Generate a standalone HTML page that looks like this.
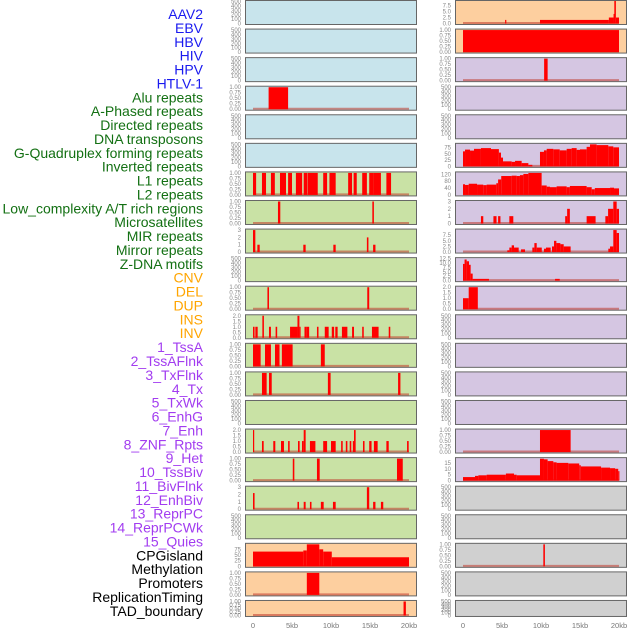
<!DOCTYPE html>
<html><head><meta charset="utf-8">
<style>
html,body{margin:0;padding:0;background:#fff;}
#wrap{position:relative;width:630px;height:630px;overflow:hidden;}
svg{position:absolute;left:0;top:0;}
</style></head>
<body>
<div id="wrap">
<svg id="chart" width="630" height="630" viewBox="0 0 630 630"></svg>
</div>
<script>
// ---- labels ----
const trackLabels = ["AAV2","EBV","HBV","HIV","HPV","HTLV-1","Alu repeats","A-Phased repeats","Directed repeats","DNA transposons","G-Quadruplex forming repeats","Inverted repeats","L1 repeats","L2 repeats","Low_complexity A/T rich regions","Microsatellites","MIR repeats","Mirror repeats","Z-DNA motifs","CNV","DEL","DUP","INS","INV","1_TssA","2_TssAFlnk","3_TxFlnk","4_Tx","5_TxWk","6_EnhG","7_Enh","8_ZNF_Rpts","9_Het","10_TssBiv","11_BivFlnk","12_EnhBiv","13_ReprPC","14_ReprPCWk","15_Quies","CPGisland","Methylation","Promoters","ReplicationTiming","TAD_boundary"];
const labelGroups = ["virus","virus","virus","virus","virus","virus","repeat","repeat","repeat","repeat","repeat","repeat","repeat","repeat","repeat","repeat","repeat","repeat","repeat","sv","sv","sv","sv","sv","chrom","chrom","chrom","chrom","chrom","chrom","chrom","chrom","chrom","chrom","chrom","chrom","chrom","chrom","chrom","other","other","other","other","other"];
const xTicks = [0,5,10,15,20];
const xTickLabels = ["0","5kb","10kb","15kb","20kb"];

// ---- tick sets ----
const ticksEmpty = ["0","100","200","300","400","500"];
const ticksUnit = ["0.00","0.25","0.50","0.75","1.00"];
const ticks3 = ["0","1","2","3"];
const ticks2h = ["0.0","0.5","1.0","1.5","2.0"];

// ---- left column data: [startKb, endKb, value] ----
const L_AAV2 = [], L_EBV = [], L_HBV = [];
const L_HIV = [[2.0,4.5,1]];
const L_HPV = [], L_HTLV = [];
const L_row7 = [[0,0.4,1],[1.15,1.67,1],[2.3,2.8,1],[3.46,4.23,1],[4.5,5.0,1],[5.5,6.3,1],[6.5,7.0,1],[7.05,8.3,1],[9.0,9.5,1],[9.8,10.6,1],[12.2,12.7,1],[12.9,13.3,1],[14.0,14.6,1],[14.9,15.4,1],[15.4,16.4,1],[17.1,17.7,1]];
const L_row8 = [[3.2,3.5,1],[15.3,15.5,1]];
const L_row9 = [[0,0.3,3],[0.56,0.86,1],[6.45,6.75,1],[10.3,10.6,1],[14.6,14.8,2],[15.4,15.7,1]];
const L_row10 = [];
const L_row11 = [[1.85,2.05,1],[14.65,14.9,1]];
const L_row12 = [[0,0.2,1],[0.3,0.6,1],[1.2,1.4,2],[2.05,2.3,1],[2.9,3.1,1],[4.75,5.0,1],[5.0,5.7,1],[5.7,5.95,2],[5.95,6.1,1],[6.6,6.9,1],[6.9,7.2,1],[8.2,8.4,1],[9.2,9.7,1],[10.1,10.4,1],[10.55,10.85,1],[11.4,12.1,1],[12.7,12.95,1],[14.0,14.2,1],[15.25,16.1,1],[17.4,17.6,1]];
const L_row13 = [[0,0.98,1],[1.54,2.3,1],[2.82,3.4,1],[3.7,5.08,1],[8.7,9.2,1]];
const L_row14 = [[1.15,1.75,1],[2.05,2.4,1],[9.6,9.95,1],[18.6,18.9,1]];
const L_row15 = [];
const L_row16 = [[0,0.09,2],[1.15,1.37,1],[2.6,2.86,1],[3.59,3.97,1],[4.5,4.7,1],[5.77,5.98,1],[6.28,6.5,1],[6.5,6.75,2],[7.3,8.0,1],[9.0,9.5,1],[10.0,10.6,1],[11.3,11.5,1],[11.9,12.1,1],[12.4,12.6,1],[12.8,12.95,1],[12.95,13.16,2],[14.1,14.3,1],[14.9,15.2,1],[15.5,15.98,1],[17.1,17.4,1],[19.75,19.96,1]];
const L_row17 = [[5.1,5.3,1],[8.2,8.55,1],[18.46,19.2,1]];
const L_row18 = [[0,0.2,2.2],[5.7,5.9,1],[6.5,6.75,1],[7.3,7.5,1],[8.7,9.06,1],[10.25,10.6,1],[14.6,14.9,3],[15.4,15.7,1],[16.4,16.7,1]];
const L_row19 = [];
const L_row20 = [[0,6.45,65],[6.45,6.9,70],[6.9,8.5,97],[8.5,9.0,75],[9.0,10.1,65],[10.1,20.0,40]];
const L_row21 = [[6.9,8.5,1]];
const L_row22 = [[19.3,19.6,1]];

// ---- right column data ----
const R_row1 = [[5.4,5.55,1.5],[9.87,18.7,1.5],[18.7,19.3,2.5],[19.3,19.4,4],[19.4,19.6,9.5],[19.6,20.0,2.5]];
const R_row2 = [[0,20,1]];
const R_row3 = [[10.4,10.85,1]];
const R_row4 = [], R_row5 = [];
const R_row6 = [[0,0.26,60],[0.26,0.9,67],[0.9,1.41,63],[1.41,2.3,70],[2.3,3.59,73],[3.59,4.6,69],[4.6,4.87,55],[4.87,5.13,35],[5.13,6.24,20],[6.24,6.67,18],[6.67,7.52,22],[7.52,8.38,13],[8.38,8.89,6],[9.87,10.38,58],[10.38,10.73,64],[10.73,11.58,70],[11.58,12.4,68],[12.4,13.29,64],[13.29,13.93,70],[13.93,14.57,73],[14.57,15.0,66],[15.0,15.85,68],[15.85,16.28,78],[16.28,17.13,88],[17.13,18.63,85],[18.63,19.27,80],[19.27,20.0,76]];
const R_row7 = [[0,0.26,62],[0.26,0.73,58],[0.73,1.8,65],[1.8,2.6,60],[2.6,3.03,57],[3.03,4.27,60],[4.27,4.5,68],[4.5,4.9,90],[4.9,6.24,110],[6.24,6.88,112],[6.88,7.3,110],[7.3,7.74,115],[7.74,8.38,122],[8.38,10.08,128],[10.08,10.73,55],[10.73,11.15,48],[11.15,12.0,45],[12.0,13.29,50],[13.29,13.7,45],[13.7,15.85,52],[15.85,16.5,45],[16.5,16.9,33],[16.9,18.85,40],[18.85,19.36,42],[19.36,20.0,38]];
const R_row8 = [[2.3,2.6,1],[3.9,4.3,1],[4.5,4.8,1],[5.94,6.45,1],[13.1,13.35,1],[13.35,13.7,2],[15.85,17.0,1],[18.25,18.6,1],[18.6,19.27,2],[19.27,19.7,3],[19.7,20.0,2]];
const R_row9 = [[5.68,5.94,0.8],[5.94,6.24,2],[6.24,6.54,3],[6.54,7.14,2],[7.44,7.95,1.2],[8.89,9.15,2],[9.15,9.45,4],[9.45,10.1,2],[10.38,10.64,1.5],[10.64,11.24,2],[11.41,11.67,2.5],[11.67,11.97,5],[11.97,12.48,4],[12.48,12.91,3.5],[12.91,13.8,2.5],[18.63,18.85,1.5],[18.85,19.27,2.5],[19.27,19.7,9.8],[19.7,20.0,8.5]];
const R_row10 = [[0,0.2,9.5],[0.2,0.47,12],[0.47,0.77,11],[0.77,0.98,9],[0.98,1.24,4],[1.24,3.33,1],[11.8,12.4,1]];
const R_row11 = [[0,0.73,1],[0.73,1.9,2]];
const R_row12 = [], R_row13 = [], R_row14 = [], R_row15 = [];
const R_row16 = [[9.87,13.8,1]];
const R_row17 = [[0,1.54,3],[1.54,1.97,4],[1.97,3.03,4.5],[3.03,5.5,5],[5.5,6.54,6],[6.54,6.88,5],[6.88,9.87,4.5],[9.87,10.38,18.5],[10.38,10.85,18],[10.85,11.58,16.5],[11.58,12.0,15.5],[12.0,13.5,15],[13.5,14.9,14.5],[14.9,15.1,13],[15.1,17.7,12],[17.7,18.85,11],[18.85,19.5,10.5],[19.5,19.9,10],[19.9,20.0,8]];
const R_row18 = [], R_row19 = [];
const R_row20 = [[10.3,10.5,1]];
const R_row21 = [], R_row22 = [];

const leftData = [L_AAV2,L_EBV,L_HBV,L_HIV,L_HPV,L_HTLV,L_row7,L_row8,L_row9,L_row10,L_row11,L_row12,L_row13,L_row14,L_row15,L_row16,L_row17,L_row18,L_row19,L_row20,L_row21,L_row22];
const rightData = [R_row1,R_row2,R_row3,R_row4,R_row5,R_row6,R_row7,R_row8,R_row9,R_row10,R_row11,R_row12,R_row13,R_row14,R_row15,R_row16,R_row17,R_row18,R_row19,R_row20,R_row21,R_row22];
const leftTicks = [ticksEmpty,ticksEmpty,ticksEmpty,ticksUnit,ticksEmpty,ticksEmpty,ticksUnit,ticksUnit,ticks3,ticksEmpty,ticksUnit,ticks2h,ticksUnit,ticksUnit,ticksEmpty,ticks2h,ticksUnit,ticks3,ticksEmpty,["0","25","50","75"],ticksUnit,ticksUnit];
const rightTicks = [["0.0","2.5","5.0","7.5"],ticksUnit,ticksUnit,ticksEmpty,ticksEmpty,["0","25","50","75"],["0","40","80","120"],ticks3,["0.0","2.5","5.0","7.5"],["0.0","2.5","5.0","7.5","10.0","12.5"],ticks2h,ticksEmpty,ticksEmpty,ticksEmpty,ticksEmpty,ticksUnit,["0","5","10","15"],ticksEmpty,ticksEmpty,ticksUnit,ticksEmpty,ticksEmpty];
const leftMax = [500,500,500,1,500,500,1,1,3,500,1,2,1,1,500,2,1,3,500,97,1,1];
const rightMax = [9.2,1,1,500,500,88,128,3,9.8,12.5,2,500,500,500,500,1,18.6,500,500,1,500,500];

// ---- styles ----
const colGroup = {virus:"#1a1aef",repeat:"#137013",sv:"#ffa500",chrom:"#a23cf0",other:"#000"};
const BG_BLUE="#c8e4ec", BG_GREEN="#c9e2a5", BG_PEACH="#fdcf9f", BG_PURPLE="#d5c6e2", BG_GRAY="#d0d0d0";
const leftBg = i => i<6?BG_BLUE:(i<19?BG_GREEN:BG_PEACH);
const rightBg = i => i<2?BG_PEACH:(i<17?BG_PURPLE:BG_GRAY);

const NS="http://www.w3.org/2000/svg";
const svg=document.getElementById('chart');
function mk(tag,attrs,parent){const e=document.createElementNS(NS,tag);for(const k in attrs)e.setAttribute(k,attrs[k]);(parent||svg).appendChild(e);return e;}

const PITCH=28.57;
function rowTop(i){return i*PITCH;}
function rowH(i){return i===21?17:25;}
function xScale(colX0,kb){return colX0+8+kb*7.8;}
function yScale(top,h,max,v){const y0=top+h-1.5,y1=top+1.5;return y0-(v/max)*(y0-y1);}

// labels
trackLabels.forEach((t,i)=>{
  const e=mk('text',{x:203,y:14+i*13.88+5,'text-anchor':'end','font-family':'Liberation Sans, sans-serif','font-size':'14',fill:colGroup[labelGroups[i]]});
  e.textContent=t;
  
  
});

function drawColumn(data,ticks,maxes,bgFn,x0,side){
  data.forEach((bars,i)=>{
    const top=rowTop(i),h=rowH(i),max=maxes[i];
    const g=mk('g',{});
    
    
    const r=mk('rect',{x:x0+0.5,y:top+0.5,width:171,height:h-1,fill:bgFn(i),stroke:'#666','stroke-width':1},g);
    
    
    // ticks
    const tks=ticks[i];
    const tmax = (tks===ticksEmpty)?500:max;
    tks.forEach(t=>{
      const v=parseFloat(t);
      const tx=mk('text',{x:x0-4,y:yScale(top,h,tmax,v)+2,'text-anchor':'end','font-family':'Liberation Sans, sans-serif','font-size':'6',fill:'#888'},g);
      tx.textContent=t;
      
      
    });
    if(bars.length){
      const bl=mk('line',{x1:xScale(x0,0),x2:xScale(x0,20),y1:top+h-2,y2:top+h-2,stroke:'#c0392b','stroke-opacity':0.55,'stroke-width':2},g);
      
      
    }
    bars.forEach(b=>{
      const xa=xScale(x0,b[0]),xb=xScale(x0,b[1]);
      const yt=Math.max(top+1,yScale(top,h,max,b[2]));
      const rr=mk('rect',{x:xa,y:yt,width:Math.max(1.2,xb-xa),height:top+h-1.5-yt,fill:'#ff0000'},g);
      
      
    });
  });
  xTicks.forEach((k,j)=>{
    const t=mk('text',{x:xScale(x0,k),y:628,'text-anchor':'middle','font-family':'Liberation Sans, sans-serif','font-size':'7.5',fill:'#777'});
    t.textContent=xTickLabels[j];
    
    
  });
}
drawColumn(leftData,leftTicks,leftMax,leftBg,245,'left');
drawColumn(rightData,rightTicks,rightMax,rightBg,455,'right');
</script>
</body></html>
